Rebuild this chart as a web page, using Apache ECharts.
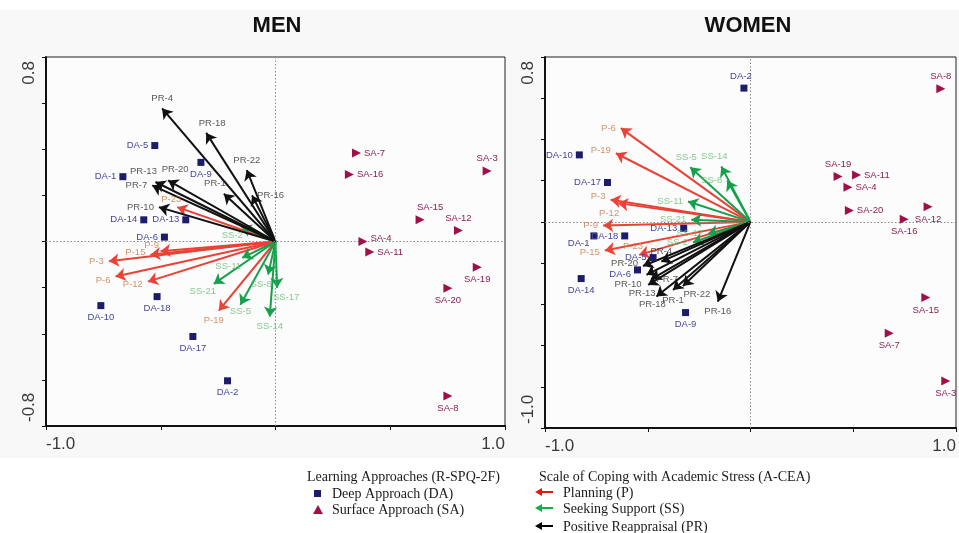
<!DOCTYPE html>
<html>
<head>
<meta charset="utf-8">
<script src="https://cdn.jsdelivr.net/npm/echarts@6/dist/echarts.min.js"></script>
<style>
html,body{margin:0;padding:0;background:#ffffff;}
#chart{width:959px;height:533px;}
</style>
</head>
<body>
<div id="chart"></div>
<script>
// ---------------- DATA ----------------
// MEN panel
const menDA = [['DA-1',-0.665,0.281],['DA-2',-0.209,-0.604],['DA-5',-0.526,0.416],['DA-6',-0.484,0.019],['DA-9',-0.325,0.343],['DA-10',-0.761,-0.278],['DA-13',-0.391,0.094],['DA-14',-0.574,0.094],['DA-17',-0.360,-0.412],['DA-18',-0.516,-0.239]];
const menSA = [['SA-3',0.922,0.306],['SA-4',0.381,0.0],['SA-7',0.353,0.384],['SA-8',0.751,-0.670],['SA-11',0.411,-0.045],['SA-12',0.797,0.048],['SA-15',0.630,0.094],['SA-16',0.322,0.291],['SA-19',0.879,-0.112],['SA-20',0.751,-0.203]];
const menP = [['P-3',-0.726,-0.086],['P-6',-0.697,-0.152],['P-9',-0.501,-0.042],['P-12',-0.556,-0.174],['P-15',-0.545,-0.057],['P-19',-0.247,-0.300],['P-23',-0.428,0.149]];
const menSS = [['SS-2',-0.149,0.065],['SS-5',-0.153,-0.274],['SS-8',-0.032,-0.143],['SS-11',-0.145,-0.071],['SS-14',-0.025,-0.326],['SS-17',0.007,-0.201],['SS-21',-0.269,-0.184]];
const menPR = [['PR-1',-0.225,0.207],['PR-4',-0.494,0.577],['PR-7',-0.537,0.243],['PR-10',-0.508,0.149],['PR-13',-0.523,0.258],['PR-16',-0.102,0.200],['PR-18',-0.302,0.471],['PR-20',-0.468,0.265],['PR-22',-0.125,0.310]];
// WOMEN panel
const womenDA = [['DA-1',-0.762,-0.068],['DA-2',-0.032,0.649],['DA-5',-0.474,-0.173],['DA-6',-0.550,-0.233],['DA-9',-0.316,-0.440],['DA-10',-0.833,0.325],['DA-13',-0.325,-0.031],['DA-14',-0.824,-0.275],['DA-17',-0.696,0.191],['DA-18',-0.612,-0.068]];
const womenSA = [['SA-3',0.950,-0.772],['SA-4',0.474,0.168],['SA-7',0.675,-0.540],['SA-8',0.926,0.646],['SA-11',0.516,0.228],['SA-12',0.864,0.074],['SA-15',0.853,-0.367],['SA-16',0.748,0.013],['SA-19',0.426,0.220],['SA-20',0.481,0.055]];
const womenP = [['P-3',-0.681,0.107],['P-6',-0.631,0.455],['P-9',-0.717,-0.018],['P-12',-0.644,0.091],['P-15',-0.709,-0.139],['P-19',-0.655,0.333],['P-23',-0.542,-0.160]];
const womenSS = [['SS-2',-0.280,-0.100],['SS-5',-0.293,0.265],['SS-8',-0.113,0.201],['SS-11',-0.304,0.099],['SS-14',-0.142,0.269],['SS-17',-0.207,-0.058],['SS-21',-0.288,0.010]];
const womenPR = [['PR-1',-0.377,-0.330],['PR-4',-0.434,-0.193],['PR-7',-0.482,-0.278],['PR-10',-0.506,-0.257],['PR-13',-0.498,-0.306],['PR-16',-0.159,-0.387],['PR-18',-0.458,-0.362],['PR-20',-0.523,-0.214],['PR-22',-0.329,-0.311]];

// axis ranges & tick labels
const panelTitles = ['MEN','WOMEN'];
const menXRange = [-1.0, 1.0], menYRange = [-0.8, 0.8];
const womenXRange = [-1.0, 1.0], womenYRange = [-1.0, 0.8];
const xTickStep = 0.5, yTickStep = 0.2;

// legend texts
const legendLeftTitle = 'Learning Approaches (R-SPQ-2F)';
const legendLeftItems = ['Deep Approach (DA)','Surface Approach (SA)'];
const legendRightTitle = 'Scale of Coping with Academic Stress (A-CEA)';
const legendRightItems = ['Planning (P)','Seeking Support (SS)','Positive Reappraisal (PR)'];

// ---------------- STYLE (label placement: side, dx, dy) ----------------
const menPlace = {
 'DA-1':'l','DA-2':'b','DA-5':'l','DA-6':'l','DA-9':'b','DA-10':'b','DA-13':'l','DA-14':'l','DA-17':'b','DA-18':'b',
 'SA-3':'t','SA-4':['r',0,-3],'SA-7':'r','SA-8':'b','SA-11':'r','SA-12':'t','SA-15':['t',10,0],'SA-16':'r','SA-19':'b','SA-20':'b',
 'P-3':'l','P-6':['l',0,4],'P-9':['t',-9,4],'P-12':['l',0,3],'P-15':['l',0,-2],'P-19':['b',-5,0],'P-23':['t',-6,2],
 'SS-2':['b',-9,-1],'SS-5':['b',0,-3],'SS-8':['b',-7,0],'SS-11':['b',-14,-1],'SS-14':'b','SS-17':['b',9,0],'SS-21':['b',-11,-3],
 'PR-1':['t',-9,0],'PR-4':'t','PR-7':'l','PR-10':'l','PR-13':['t',-12,-1],'PR-16':'r','PR-18':['t',6,0],'PR-20':['t',7,-1],'PR-22':'t'
};
const womenPlace = {
 'DA-1':['l',2,7],'DA-2':['t',-3,0],'DA-5':'l','DA-6':['l',0,4],'DA-9':'b','DA-10':'l','DA-13':'l','DA-14':'b','DA-17':'l','DA-18':'l',
 'SA-3':'b','SA-4':'r','SA-7':'b','SA-8':'t','SA-11':'r','SA-12':'b','SA-15':'b','SA-16':'b','SA-19':'t','SA-20':'r',
 'P-3':['l',0,-3],'P-6':'l','P-9':'l','P-12':['b',-9,0],'P-15':['l',0,2],'P-19':['l',0,-3],'P-23':['t',-6,2],
 'SS-2':'l','SS-5':['t',-4,0],'SS-8':'l','SS-11':'l','SS-14':['t',-7,0],'SS-17':'l','SS-21':'l',
 'PR-1':'b','PR-4':'t','PR-7':'r','PR-10':['l',0,10],'PR-13':['b',-6,-2],'PR-16':'b','PR-18':['b',-4,-2],'PR-20':['l',0,-3],'PR-22':['b',14,-2]
};

const C = {
  da:'#1c1c6b', daLab:'#45459a',
  sa:'#a01048', saLab:'#8a1f52',
  p:'#ea4236', pLab:'#c67a46',
  ss:'#16a04c', ssLab:'#68bb77',
  pr:'#111111', prLab:'#2e2e2e'
};
const LABEL_FONT = '"Liberation Sans", Arial, sans-serif';
const LABEL_SIZE = 9.5;

function labelFor(place){
  const side = {l:'left', r:'right', t:'top', b:'bottom'};
  if (Array.isArray(place)) return {position:side[place[0]], offset:[place[1], place[2]]};
  return {position:side[place] || 'top', offset:[0,0]};
}

function pointData(arr, placeMap){
  return arr.map(function(d){
    const lp = labelFor(placeMap[d[0]]);
    return {name:d[0], value:[d[1], d[2]], label:{position:lp.position, offset:lp.offset}};
  });
}

function pointSeries(arr, placeMap, g, symbol, size, color, labColor, rotate){
  return {
    type:'scatter', xAxisIndex:g, yAxisIndex:g, z:5,
    symbol:symbol, symbolSize:size, symbolRotate:rotate||0,
    itemStyle:{color:color, opacity:1},
    label:{show:true, formatter:'{b}', color:labColor, fontSize:LABEL_SIZE, fontFamily:LABEL_FONT, distance:3},
    data:pointData(arr, placeMap),
    silent:true
  };
}

function arrowSeries(arr, g, color){
  return {
    type:'lines', coordinateSystem:'cartesian2d', xAxisIndex:g, yAxisIndex:g, z:3,
    symbol:['none','arrow'], symbolSize:[7,10],
    lineStyle:{color:color, width:2, opacity:1, curveness:0},
    data:arr.map(function(d){ return {name:d[0], coords:[[0,0],[d[1],d[2]]]}; }),
    silent:true
  };
}

function tipLabelSeries(arr, placeMap, g, labColor){
  return {
    type:'scatter', xAxisIndex:g, yAxisIndex:g, z:7,
    symbol:'circle', symbolSize:2, itemStyle:{color:'rgba(0,0,0,0)'},
    label:{show:true, formatter:'{b}', color:labColor, fontSize:LABEL_SIZE, fontFamily:LABEL_FONT, distance:4},
    data:pointData(arr, placeMap),
    silent:true
  };
}

function zeroLineSeries(g){
  return {
    type:'scatter', xAxisIndex:g, yAxisIndex:g, z:1, data:[], silent:true,
    markLine:{silent:true, symbol:'none', animation:false, label:{show:false},
      lineStyle:{type:[1.5,2], color:'#8a8a8a', width:1},
      data:[{xAxis:0},{yAxis:0}]}
  };
}

function edgeFormatter(range){
  return function(v){
    if (Math.abs(v-range[0])<1e-6 || Math.abs(v-range[1])<1e-6) return v.toFixed(1);
    return '';
  };
}
// y labels: rich padding keeps the rotated end labels slightly inside the axis ends
function yEdgeFormatter(range){
  return function(v){
    if (Math.abs(v-range[0])<1e-6) return '{lo|' + v.toFixed(1) + '}';
    if (Math.abs(v-range[1])<1e-6) return '{hi|' + v.toFixed(1) + '}';
    return '';
  };
}

function xAxisCfg(g, range){
  return {
    gridIndex:g, type:'value', min:range[0], max:range[1], interval:xTickStep,
    axisLine:{show:true, onZero:false, lineStyle:{color:'#111', width:2}},
    axisTick:{show:true, length:4, lineStyle:{color:'#111', width:1}},
    splitLine:{show:false},
    axisLabel:{formatter:edgeFormatter(range), fontSize:17, color:'#3a3a3a', margin:10,
      fontFamily:'"Liberation Sans", Arial, sans-serif', alignMinLabel:'left', alignMaxLabel:'right'}
  };
}
function yAxisCfg(g, range){
  const base = {fontSize:17, color:'#3a3a3a', fontFamily:'"Liberation Sans", Arial, sans-serif'};
  return {
    gridIndex:g, type:'value', min:range[0], max:range[1], interval:yTickStep,
    axisLine:{show:true, onZero:false, lineStyle:{color:'#111', width:2}},
    axisTick:{show:true, length:4, lineStyle:{color:'#111', width:1}},
    splitLine:{show:false},
    axisLabel:{formatter:yEdgeFormatter(range), fontSize:17, color:'#3a3a3a', margin:8, rotate:90,
      fontFamily:'"Liberation Sans", Arial, sans-serif', alignMinLabel:'left', alignMaxLabel:'right',
      rich:{lo:Object.assign({padding:[0,0,0,4]}, base), hi:Object.assign({padding:[0,4,0,0]}, base)}}
  };
}

// ---------------- LEGEND GRAPHICS ----------------
const serif = '"Liberation Serif", "Times New Roman", serif';
function legArrow(x, y, color){
  return {type:'group', x:x, y:y, z:10, children:[
    {type:'line', shape:{x1:4, y1:0, x2:18, y2:0}, style:{stroke:color, lineWidth:2}},
    {type:'polygon', shape:{points:[[0,0],[7,-4],[7,4]]}, style:{fill:color}}
  ]};
}
const graphics = [
  {type:'rect', shape:{x:0, y:10, width:959, height:448}, style:{fill:'#f8f8f8'}, z:-10, silent:true},
  {type:'text', x:277, y:26, style:{text:panelTitles[0], font:'bold 22px "Liberation Sans", Arial, sans-serif', fill:'#111', textAlign:'center', textVerticalAlign:'middle'}},
  {type:'text', x:748, y:26, style:{text:panelTitles[1], font:'bold 22px "Liberation Sans", Arial, sans-serif', fill:'#111', textAlign:'center', textVerticalAlign:'middle'}},
  {type:'text', x:307, y:477, style:{text:legendLeftTitle, font:'14px '+serif, fill:'#1a1a1a', textVerticalAlign:'middle'}},
  {type:'rect', shape:{x:314, y:490, width:7, height:7}, style:{fill:C.da}},
  {type:'text', x:332, y:494, style:{text:legendLeftItems[0], font:'14px '+serif, fill:'#1a1a1a', textVerticalAlign:'middle'}},
  {type:'polygon', shape:{points:[[313,514],[318,505],[323,514]]}, style:{fill:C.sa}},
  {type:'text', x:332, y:510, style:{text:legendLeftItems[1], font:'14px '+serif, fill:'#1a1a1a', textVerticalAlign:'middle'}},
  {type:'text', x:539, y:477, style:{text:legendRightTitle, font:'14px '+serif, fill:'#1a1a1a', textVerticalAlign:'middle'}},
  legArrow(535, 492, '#e8150f'),
  {type:'text', x:563, y:493, style:{text:legendRightItems[0], font:'14px '+serif, fill:'#1a1a1a', textVerticalAlign:'middle'}},
  legArrow(535, 508, '#13b04a'),
  {type:'text', x:563, y:509, style:{text:legendRightItems[1], font:'14px '+serif, fill:'#1a1a1a', textVerticalAlign:'middle'}},
  legArrow(535, 526, '#000'),
  {type:'text', x:563, y:527, style:{text:legendRightItems[2], font:'14px '+serif, fill:'#1a1a1a', textVerticalAlign:'middle'}}
];

// ---------------- OPTION ----------------
const option = {
  animation:false,
  backgroundColor:'#ffffff',
  grid:[
    {left:46, top:57, width:459, height:369, show:true, borderColor:'#222', borderWidth:1, backgroundColor:'#fcfcfc'},
    {left:545, top:57, width:412, height:371, show:true, borderColor:'#222', borderWidth:1, backgroundColor:'#fcfcfc'}
  ],
  xAxis:[xAxisCfg(0, menXRange), xAxisCfg(1, womenXRange)],
  yAxis:[yAxisCfg(0, menYRange), yAxisCfg(1, womenYRange)],
  graphic:graphics,
  series:[
    zeroLineSeries(0), zeroLineSeries(1),
    arrowSeries(menP, 0, C.p), arrowSeries(menSS, 0, C.ss), arrowSeries(menPR, 0, C.pr),
    arrowSeries(womenP, 1, C.p), arrowSeries(womenSS, 1, C.ss), arrowSeries(womenPR, 1, C.pr),
    pointSeries(menDA, menPlace, 0, 'rect', 7, C.da, C.daLab),
    pointSeries(menSA, menPlace, 0, 'triangle', 9, C.sa, C.saLab, -90),
    pointSeries(womenDA, womenPlace, 1, 'rect', 7, C.da, C.daLab),
    pointSeries(womenSA, womenPlace, 1, 'triangle', 9, C.sa, C.saLab, -90),
    tipLabelSeries(menP, menPlace, 0, C.pLab), tipLabelSeries(menSS, menPlace, 0, C.ssLab), tipLabelSeries(menPR, menPlace, 0, C.prLab),
    tipLabelSeries(womenP, womenPlace, 1, C.pLab), tipLabelSeries(womenSS, womenPlace, 1, C.ssLab), tipLabelSeries(womenPR, womenPlace, 1, C.prLab)
  ]
};
const chart = echarts.init(document.getElementById('chart'), null, {renderer:'canvas'});
chart.setOption(option);
</script>
</body>
</html>
